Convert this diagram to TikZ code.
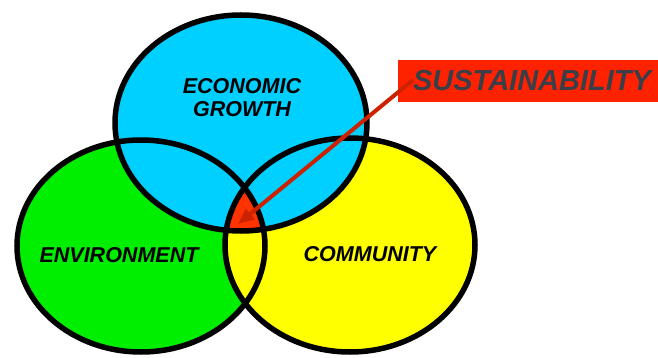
\documentclass[tikz,border=0pt]{standalone}
\usepackage{fontspec}
\setmainfont{Liberation Sans}
\usetikzlibrary{arrows.meta}
\definecolor{vblue}{RGB}{0,208,255}
\definecolor{vgreen}{RGB}{0,238,0}
\definecolor{vyellow}{RGB}{255,255,0}
\definecolor{vred}{RGB}{255,51,0}
\definecolor{boxred}{RGB}{255,34,0}
\definecolor{arrowred}{RGB}{204,34,0}
\definecolor{labelgray}{RGB}{58,62,72}
\begin{document}
\begin{tikzpicture}[x=1pt,y=-1pt,
  venn/.style={line width=5.5pt, draw=black},
  lab/.style={font=\fontsize{21.5}{23}\selectfont\bfseries\itshape, text=black, align=center, inner sep=0pt}]
\useasboundingbox (0,0) rectangle (658,358);
% fills
\fill[vgreen] (141,246) ellipse [x radius=124pt, y radius=106pt];
\fill[vyellow] (350,245) ellipse [x radius=125pt, y radius=107pt];
\fill[vblue] (241,123) ellipse [x radius=126pt, y radius=108pt];
\begin{scope}
  \clip (241,123) ellipse [x radius=126pt, y radius=108pt];
  \clip (141,246) ellipse [x radius=124pt, y radius=106pt];
  \fill[vred] (350,245) ellipse [x radius=125pt, y radius=107pt];
\end{scope}
% outlines
\draw[venn] (141,246) ellipse [x radius=124pt, y radius=106pt];
\draw[venn] (350,245) ellipse [x radius=125pt, y radius=107pt];
\draw[venn] (241,123) ellipse [x radius=126pt, y radius=108pt];
% labels
\node[lab] (econ) at (242,98) {ECONOMIC\\GROWTH};
\node[lab] (env) at (119,255) {ENVIRONMENT};
\node[lab] (comm) at (370,254) {COMMUNITY};
% annotation
\node[fill=boxred, minimum width=260pt, minimum height=42pt, inner sep=0pt, anchor=north west] (sbox) at (398,60) {};
\coordinate (astart) at (413,80);
\coordinate (atip) at (238,224);
\draw[arrowred, line width=4pt, -{Triangle[length=16pt,width=13pt]}] (astart) -- (atip);
\node[font=\fontsize{29}{30}\selectfont\bfseries\itshape, text=labelgray, inner sep=0pt] (stext) at (532,81) {SUSTAINABILITY};
\end{tikzpicture}
\end{document}
